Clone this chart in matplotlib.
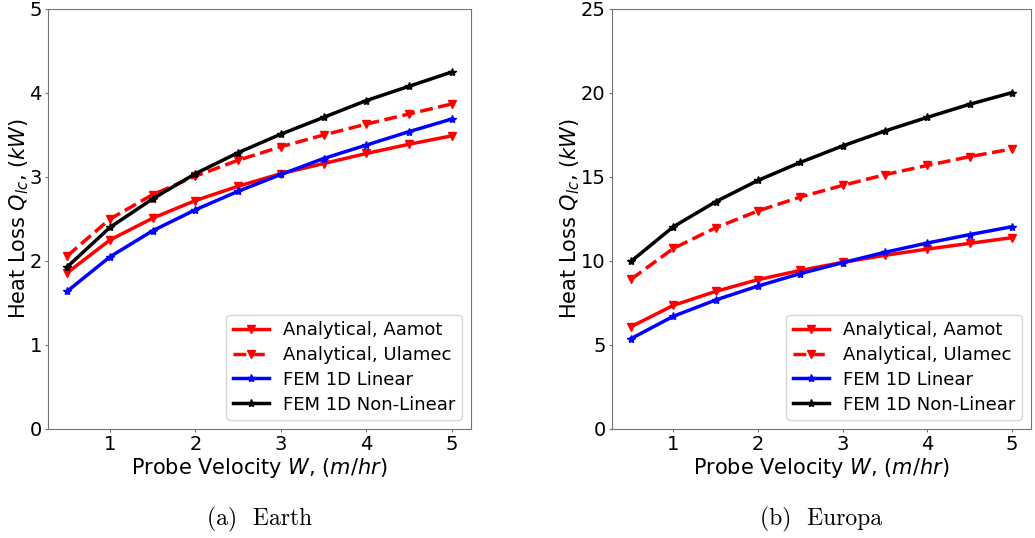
import numpy as np
import matplotlib.pyplot as plt

velocity = [0.5, 1.0, 1.5, 2.0, 2.5, 3.0, 3.5, 4.0, 4.5, 5.0]

# Earth
earth_aamot = [1.86, 2.25, 2.51, 2.72, 2.89, 3.04, 3.16, 3.28, 3.39, 3.49]
earth_ulamec = [2.06, 2.50, 2.79, 3.01, 3.20, 3.36, 3.50, 3.63, 3.75, 3.87]
earth_linear = [1.64, 2.05, 2.36, 2.61, 2.83, 3.03, 3.22, 3.38, 3.54, 3.69]
earth_nonlinear = [1.93, 2.40, 2.74, 3.04, 3.29, 3.51, 3.71, 3.91, 4.08, 4.25]

# Europa
europa_aamot = [6.09, 7.36, 8.19, 8.89, 9.44, 9.92, 10.34, 10.71, 11.05, 11.39]
europa_ulamec = [8.91, 10.75, 11.98, 12.98, 13.81, 14.50, 15.14, 15.69, 16.21, 16.67]
europa_linear = [5.38, 6.71, 7.68, 8.51, 9.25, 9.90, 10.52, 11.07, 11.57, 12.04]
europa_nonlinear = [9.98, 12.04, 13.53, 14.80, 15.87, 16.85, 17.74, 18.55, 19.33, 20.02]

panels = [
    ("(a)  Earth", [earth_aamot, earth_ulamec, earth_linear, earth_nonlinear], 5, 1),
    ("(b)  Europa", [europa_aamot, europa_ulamec, europa_linear, europa_nonlinear], 25, 5),
]
labels = ["Analytical, Aamot", "Analytical, Ulamec", "FEM 1D Linear", "FEM 1D Non-Linear"]
styles = [
    dict(color="red", ls="-", marker="v"),
    dict(color="red", ls="--", marker="v"),
    dict(color="blue", ls="-", marker="*"),
    dict(color="black", ls="-", marker="*"),
]

fig = plt.figure(figsize=(10.35, 5.38), dpi=100)
W, H = 1035, 538
boxes = [(48, 471), (612, 1031)]
top, bottom = 9, 429

for (caption, series, ymax, ystep), (x0, x1) in zip(panels, boxes):
    ax = fig.add_axes([x0 / W, 1 - bottom / H, (x1 - x0) / W, (bottom - top) / H])
    for vals, lab, st in zip(series, labels, styles):
        ax.plot(velocity, vals, lw=2.5, ms=6, label=lab, **st)
    ax.set_ylim(0, ymax)
    ax.set_yticks(np.arange(0, ymax + 0.1, ystep))
    ax.set_xticks([1, 2, 3, 4, 5])
    ax.tick_params(labelsize=14, length=2.5, pad=2, color="0.45")
    for sp in ax.spines.values():
        sp.set_color("0.45")
    ax.set_xlabel("Probe Velocity $W$, $(m/hr)$", fontsize=15, labelpad=1)
    ax.set_ylabel("Heat Loss $Q_{lc}$, $(kW)$", fontsize=15, labelpad=-1)
    ax.legend(loc="lower right", fontsize=13, handlelength=2.0,
              labelspacing=0.38, borderpad=0.35)
    fig.text((x0 + x1) / 2 / W, 1 - 519 / H, caption, ha="center", va="center",
             fontsize=17, family="cmr10")

fig.savefig("out.png", dpi=100)
